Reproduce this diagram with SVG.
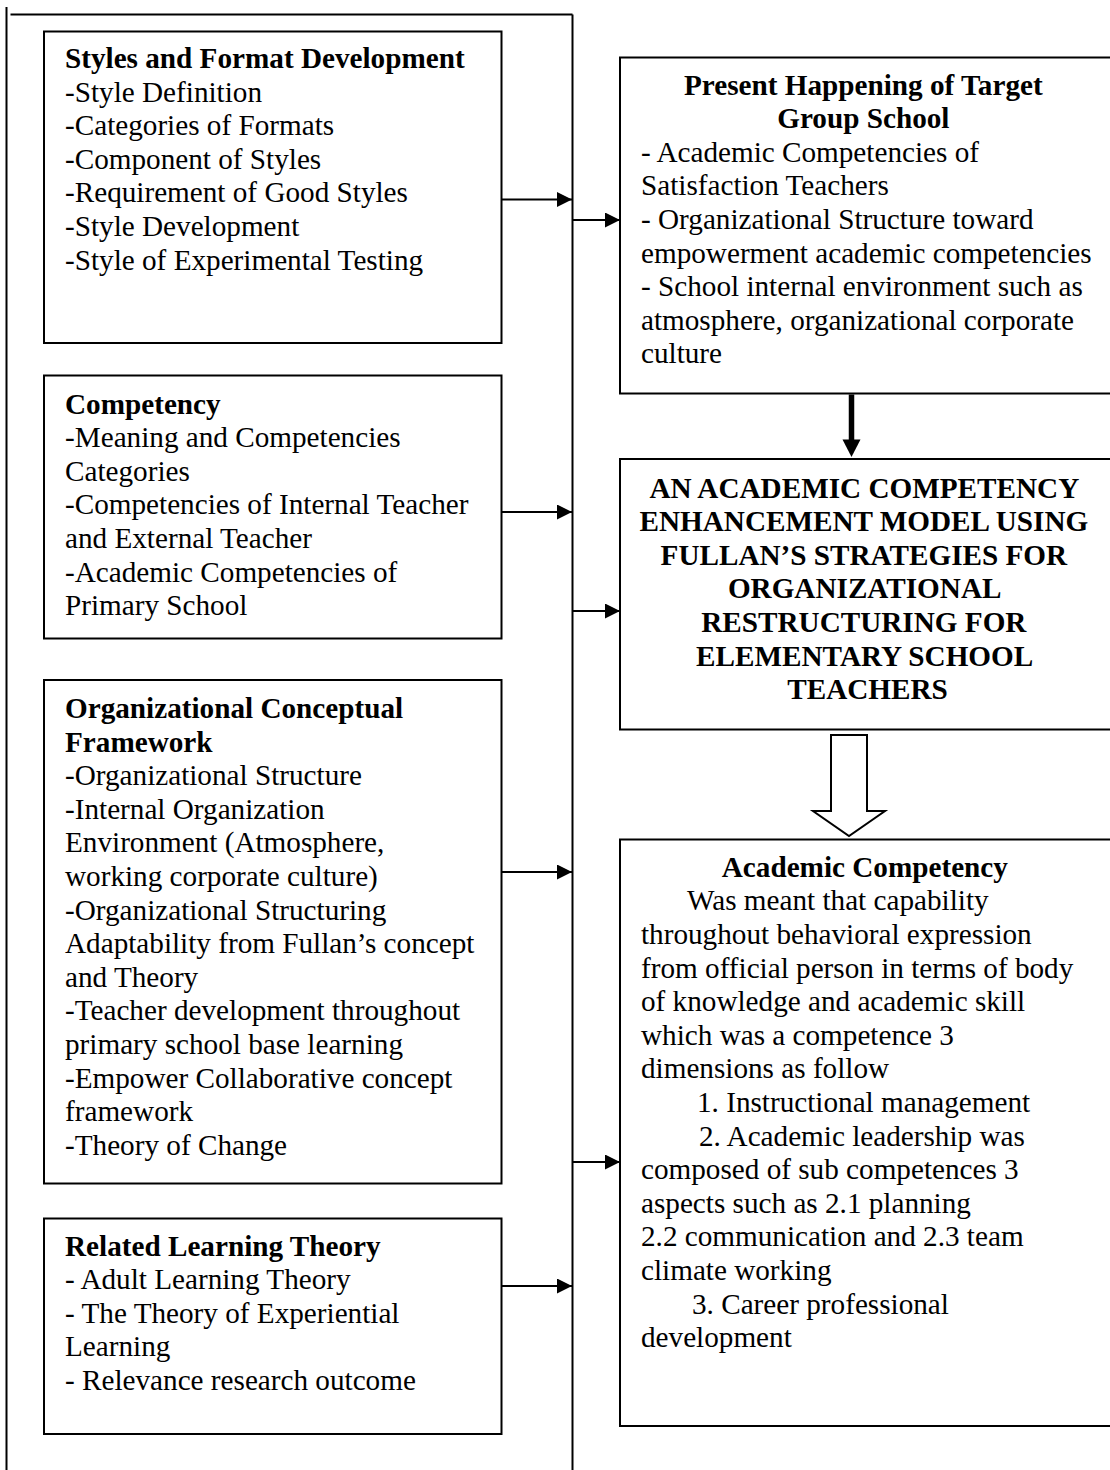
<svg xmlns="http://www.w3.org/2000/svg" width="1110" height="1470" viewBox="0 0 1110 1470">
<style>
  .box { fill: #ffffff; stroke: #000000; stroke-width: 2; }
  .ln { fill: none; stroke: #000000; stroke-width: 2; }
  .t { font-family: "Liberation Serif", "Times New Roman", serif; font-size: 29.2px; fill: #000000; }
  .b { font-weight: bold; }
  .c { text-anchor: middle; }
</style>
<defs>
  <marker id="ah" markerUnits="userSpaceOnUse" markerWidth="16" markerHeight="16" refX="15" refY="7.5" orient="auto">
    <path d="M0,0 L15,7.5 L0,15 Z" fill="#000000"/>
  </marker>
</defs>
<rect width="1110" height="1470" fill="#ffffff"/>

<g id="frame">
  <line class="ln" x1="6.5" y1="7" x2="6.5" y2="1470"/>
  <line class="ln" x1="10.5" y1="14.5" x2="572.5" y2="14.5"/>
  <line class="ln" x1="572.5" y1="14.5" x2="572.5" y2="1470"/>
</g>

<g id="styles-format">
  <rect class="box" x="44" y="31.5" width="457.5" height="311.5"/>
  <text class="t" x="65">
    <tspan class="b" x="65" y="68">Styles and Format Development</tspan>
    <tspan x="65" y="101.6">-Style Definition</tspan>
    <tspan x="65" y="135.2">-Categories of Formats</tspan>
    <tspan x="65" y="168.8">-Component of Styles</tspan>
    <tspan x="65" y="202.4">-Requirement of Good Styles</tspan>
    <tspan x="65" y="236">-Style Development</tspan>
    <tspan x="65" y="269.6">-Style of Experimental Testing</tspan>
  </text>
</g>

<g id="competency">
  <rect class="box" x="44" y="375.5" width="457.5" height="263"/>
  <text class="t">
    <tspan class="b" x="65" y="413.5">Competency</tspan>
    <tspan x="65" y="447.1">-Meaning and Competencies</tspan>
    <tspan x="65" y="480.7">Categories</tspan>
    <tspan x="65" y="514.3">-Competencies of Internal Teacher</tspan>
    <tspan x="65" y="547.9">and External Teacher</tspan>
    <tspan x="65" y="581.5">-Academic Competencies of</tspan>
    <tspan x="65" y="615.1">Primary School</tspan>
  </text>
</g>

<g id="org-framework">
  <rect class="box" x="44" y="680" width="457.5" height="503.5"/>
  <text class="t">
    <tspan class="b" x="65" y="718">Organizational Conceptual</tspan>
    <tspan class="b" x="65" y="751.6">Framework</tspan>
    <tspan x="65" y="785.2">-Organizational Structure</tspan>
    <tspan x="65" y="818.8">-Internal Organization</tspan>
    <tspan x="65" y="852.4">Environment (Atmosphere,</tspan>
    <tspan x="65" y="886">working corporate culture)</tspan>
    <tspan x="65" y="919.6">-Organizational Structuring</tspan>
    <tspan x="65" y="953.2">Adaptability from Fullan’s concept</tspan>
    <tspan x="65" y="986.8">and Theory</tspan>
    <tspan x="65" y="1020.4">-Teacher development throughout</tspan>
    <tspan x="65" y="1054">primary school base learning</tspan>
    <tspan x="65" y="1087.6">-Empower Collaborative concept</tspan>
    <tspan x="65" y="1121.2">framework</tspan>
    <tspan x="65" y="1154.8">-Theory of Change</tspan>
  </text>
</g>

<g id="learning-theory">
  <rect class="box" x="44" y="1218.5" width="457.5" height="215.5"/>
  <text class="t">
    <tspan class="b" x="65" y="1255.5">Related Learning Theory</tspan>
    <tspan x="65" y="1289.1">- Adult Learning Theory</tspan>
    <tspan x="65" y="1322.7">- The Theory of Experiential</tspan>
    <tspan x="65" y="1356.3">Learning</tspan>
    <tspan x="65" y="1389.9">- Relevance research outcome</tspan>
  </text>
</g>

<g id="present-happening">
  <rect class="box" x="620" y="57.5" width="500" height="336"/>
  <text class="t">
    <tspan class="b c" x="867" y="94.5">Present Happening of Target</tspan>
    <tspan class="b c" x="867" y="128.1">Group School</tspan>
    <tspan x="641" y="161.7">- Academic Competencies of</tspan>
    <tspan x="641" y="195.3">Satisfaction Teachers</tspan>
    <tspan x="641" y="228.9">- Organizational Structure toward</tspan>
    <tspan x="641" y="262.5">empowerment academic competencies</tspan>
    <tspan x="641" y="296.1">- School internal environment such as</tspan>
    <tspan x="641" y="329.7">atmosphere, organizational corporate</tspan>
    <tspan x="641" y="363.3">culture</tspan>
  </text>
</g>

<g id="model">
  <rect class="box" x="620" y="459" width="500" height="270.5"/>
  <text class="t b c">
    <tspan x="867.5" y="497.5">AN ACADEMIC COMPETENCY</tspan>
    <tspan x="867.5" y="531.1">ENHANCEMENT MODEL USING</tspan>
    <tspan x="867.5" y="564.7">FULLAN’S STRATEGIES FOR</tspan>
    <tspan x="867.5" y="598.3">ORGANIZATIONAL</tspan>
    <tspan x="867.5" y="631.9">RESTRUCTURING FOR</tspan>
    <tspan x="867.5" y="665.5">ELEMENTARY SCHOOL</tspan>
    <tspan x="867.5" y="699.1">TEACHERS</tspan>
  </text>
</g>

<g id="academic-competency">
  <rect class="box" x="620" y="839.5" width="500" height="586.5"/>
  <text class="t">
    <tspan class="b c" x="868.5" y="876.7">Academic Competency</tspan>
    <tspan x="687" y="910.3">Was meant that capability</tspan>
    <tspan x="641" y="943.9">throughout behavioral expression</tspan>
    <tspan x="641" y="977.5">from official person in terms of body</tspan>
    <tspan x="641" y="1011.1">of knowledge and academic skill</tspan>
    <tspan x="641" y="1044.7">which was a competence 3</tspan>
    <tspan x="641" y="1078.3">dimensions as follow</tspan>
    <tspan x="697" y="1111.9">1. Instructional management</tspan>
    <tspan x="699" y="1145.5">2. Academic leadership was</tspan>
    <tspan x="641" y="1179.1">composed of sub competences 3</tspan>
    <tspan x="641" y="1212.7">aspects such as 2.1 planning</tspan>
    <tspan x="641" y="1246.3">2.2 communication and 2.3 team</tspan>
    <tspan x="641" y="1279.9">climate working</tspan>
    <tspan x="692" y="1313.5">3. Career professional</tspan>
    <tspan x="641" y="1347.1">development</tspan>
  </text>
</g>

<g id="connectors">
  <line class="ln" x1="501.5" y1="199.5" x2="572" y2="199.5" marker-end="url(#ah)"/>
  <line class="ln" x1="572.5" y1="220" x2="620" y2="220" marker-end="url(#ah)"/>
  <line class="ln" x1="501.5" y1="512" x2="572" y2="512" marker-end="url(#ah)"/>
  <line class="ln" x1="572.5" y1="611" x2="620" y2="611" marker-end="url(#ah)"/>
  <line class="ln" x1="501.5" y1="872" x2="572" y2="872" marker-end="url(#ah)"/>
  <line class="ln" x1="572.5" y1="1162" x2="620" y2="1162" marker-end="url(#ah)"/>
  <line class="ln" x1="501.5" y1="1286" x2="572" y2="1286" marker-end="url(#ah)"/>
  <line x1="851.5" y1="394.5" x2="851.5" y2="441" stroke="#000000" stroke-width="5.5"/>
  <polygon points="842.5,439.5 860.5,439.5 851.5,457" fill="#000000"/>
  <polygon points="831,735 867,735 867,811 885,811 849,836 813,811 831,811" fill="#ffffff" stroke="#000000" stroke-width="2"/>
</g>
</svg>
